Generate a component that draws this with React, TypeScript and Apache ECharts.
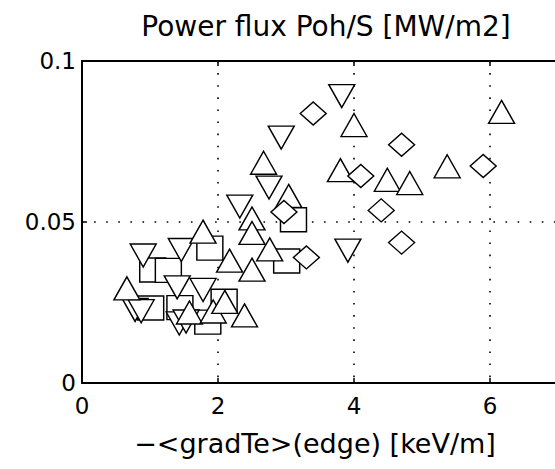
import React, { useEffect, useRef } from "react";
import * as echarts from "echarts";

const titleText = "Power flux Poh/S [MW/m2]";
const xAxisTitle = "\u2212<gradTe>(edge) [keV/m]";
const xTicks = [0, 2, 4, 6];
const yTicks = [0, 0.05, 0.1];

const upX = [0.66, 1.58, 1.93, 2.1, 2.39, 1.78, 2.17, 2.5, 2.5, 2.5, 2.76, 2.67, 3.04, 3.8, 4.0, 4.49, 4.82, 5.37, 6.17];
const upY = [0.0294, 0.0219, 0.0222, 0.0252, 0.021, 0.047, 0.038, 0.0352, 0.0511, 0.0466, 0.0415, 0.0684, 0.0581, 0.0661, 0.0801, 0.0631, 0.0621, 0.0673, 0.0842];

const downX = [0.9, 1.46, 1.4, 1.78, 0.78, 0.87, 1.43, 1.53, 2.32, 2.75, 2.93, 3.82, 3.91];
const downY = [0.0396, 0.0413, 0.0297, 0.0289, 0.0227, 0.0223, 0.0185, 0.0191, 0.0548, 0.0607, 0.0762, 0.0891, 0.0411];

const squareX = [1.04, 1.27, 1.88, 2.09, 1.85, 1.44, 1.01, 3.01, 3.11];
const squareY = [0.0351, 0.035, 0.0419, 0.0254, 0.0189, 0.0234, 0.0233, 0.0379, 0.0507];

const diamondX = [2.97, 3.3, 3.4, 4.1, 4.4, 4.7, 4.7, 5.9];
const diamondY = [0.0531, 0.039, 0.0837, 0.0643, 0.0536, 0.074, 0.0436, 0.0674];

const zip = (xs: number[], ys: number[]) => xs.map((x, i) => [x, ys[i]]);

const FONT = "'DejaVu Sans', Verdana, sans-serif";

export default function App() {
  const ref = useRef<HTMLDivElement>(null);
  useEffect(() => {
    if (!ref.current) return;
    const chart = echarts.init(ref.current, undefined, { renderer: "svg" });
    const markerStyle = { color: "#fff", borderColor: "#000", borderWidth: 1.4, opacity: 1 };
    const dotted = { color: "#000", width: 1.6, type: [1.6, 10.5] as any };
    const axisLabelStyle = { color: "#000", fontFamily: FONT, fontSize: 23 };
    chart.setOption({
      animation: false,
      backgroundColor: "#fff",
      graphic: [
        {
          type: "text",
          x: 326,
          y: 26,
          style: {
            text: titleText,
            fill: "#000",
            font: `28px ${FONT}`,
            textAlign: "center",
            textVerticalAlign: "middle",
          },
        },
        {
          type: "text",
          x: 315,
          y: 443,
          style: {
            text: xAxisTitle,
            fill: "#000",
            font: `27px ${FONT}`,
            textAlign: "center",
            textVerticalAlign: "middle",
          },
        },
      ],
      grid: {
        left: 82,
        top: 61,
        width: 489.6,
        height: 322,
        containLabel: false,
        outerBoundsMode: "none",
      },
      xAxis: [
        {
          type: "value",
          min: 0,
          max: 7.2,
          interval: 2,
          position: "bottom",
          axisLine: { show: true, lineStyle: { color: "#000", width: 2 } },
          axisTick: { show: true, inside: true, length: 5, lineStyle: { color: "#000", width: 1.5 } },
          axisLabel: {
            ...axisLabelStyle,
            margin: 11,
            formatter: (v: number) => (xTicks.includes(v) ? String(v) : ""),
          },
          splitLine: { show: true, lineStyle: dotted },
        },
        {
          type: "value",
          min: 0,
          max: 7.2,
          interval: 2,
          position: "top",
          axisLine: { show: true, lineStyle: { color: "#000", width: 2 } },
          axisTick: { show: true, inside: true, length: 5, lineStyle: { color: "#000", width: 1.5 } },
          axisLabel: { show: false },
          splitLine: { show: false },
        },
      ],
      yAxis: [
        {
          type: "value",
          min: 0,
          max: 0.1,
          interval: 0.05,
          position: "left",
          axisLine: { show: true, lineStyle: { color: "#000", width: 2 } },
          axisTick: { show: true, inside: true, length: 5, lineStyle: { color: "#000", width: 1.5 } },
          axisLabel: {
            ...axisLabelStyle,
            margin: 6,
            formatter: (v: number) => {
              const t = yTicks.find((k) => Math.abs(k - v) < 1e-9);
              return t === undefined ? "" : String(t);
            },
          },
          splitLine: { show: true, lineStyle: dotted },
        },
      ],
      series: [
        {
          type: "scatter",
          name: "square",
          data: zip(squareX, squareY),
          symbol: "rect",
          symbolSize: [26, 24],
          itemStyle: markerStyle,
        },
        {
          type: "scatter",
          name: "down",
          data: zip(downX, downY),
          symbol: "triangle",
          symbolRotate: 180,
          symbolSize: [26, 23],
          itemStyle: markerStyle,
        },
        {
          type: "scatter",
          name: "up",
          data: zip(upX, upY),
          symbol: "triangle",
          symbolSize: [26, 23],
          itemStyle: markerStyle,
        },
        {
          type: "scatter",
          name: "diamond",
          data: zip(diamondX, diamondY),
          symbol: "diamond",
          symbolSize: [26, 23],
          itemStyle: markerStyle,
        },
      ],
    });
    return () => chart.dispose();
  }, []);
  return (
    <div
      ref={ref}
      style={{ position: "fixed", left: 0, top: 0, width: 555, height: 469, background: "#fff" }}
    />
  );
}
